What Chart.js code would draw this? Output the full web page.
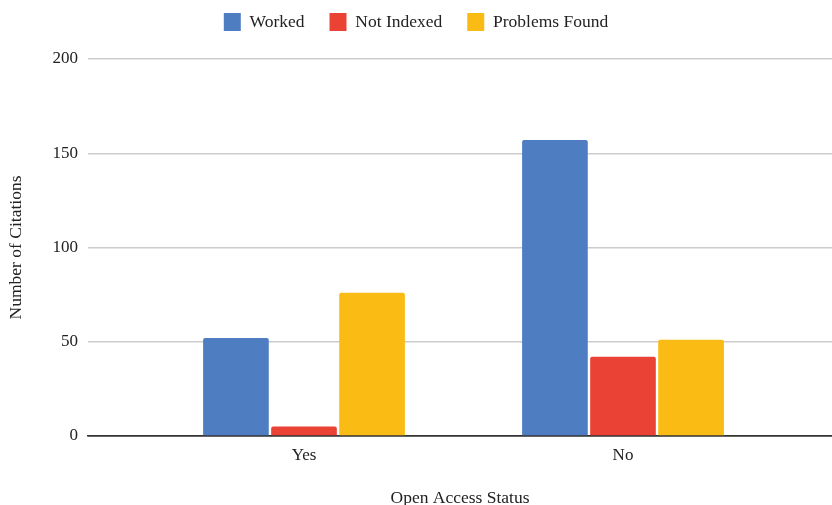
<!DOCTYPE html>
<html>
<head>
<meta charset="utf-8">
<script src="https://cdn.jsdelivr.net/npm/chart.js@4"></script>
<style>
  html, body { margin: 0; padding: 0; background: #fff; }
  #wrap { width: 832px; height: 505px; }
</style>
</head>
<body>
<div id="wrap"><canvas id="BarChart"></canvas></div>
<script>
const categories = ['Yes', 'No'];
const worked = [52, 157];
const notIndexed = [5, 42];
const problemsFound = [76, 51];
const yTicks = [0, 50, 100, 150, 200];

const font = 'Liberation Serif';
Chart.defaults.font.family = font;
Chart.defaults.color = '#222';

const toPoints = (arr) => arr.map((v, i) => ({ x: i, y: v }));

// extra room under the legend so the plot starts at the right height
const legendGap = {
  id: 'legendGap',
  beforeInit(chart) {
    const fit = chart.legend.fit;
    chart.legend.fit = function () { fit.call(this); this.height += 18; };
  }
};

const ctx = document.getElementById('BarChart');

new Chart(ctx, {
  type: 'bar',
  data: {
    datasets: [
      { label: 'Worked', data: toPoints(worked), backgroundColor: '#4f7dc1' },
      { label: 'Not Indexed', data: toPoints(notIndexed), backgroundColor: '#ea4335' },
      { label: 'Problems Found', data: toPoints(problemsFound), backgroundColor: '#f9bb14' }
    ]
  },
  plugins: [legendGap],
  options: {
    responsive: true,
    maintainAspectRatio: false,
    animation: false,
    categoryPercentage: 0.64,
    barPercentage: 0.965,
    borderRadius: 2,
    borderSkipped: 'bottom',
    layout: { padding: { top: -12, right: 0, left: 0, bottom: 0 } },
    plugins: {
      legend: {
        labels: {
          font: { size: 17.5, family: font },
          boxWidth: 17,
          boxHeight: 18,
          padding: 25,
          color: '#222'
        }
      },
      tooltip: { enabled: false }
    },
    scales: {
      x: {
        type: 'linear',
        offset: false,
        min: -0.6771,
        max: 1.6552,
        afterBuildTicks: (s) => { s.ticks = categories.map((c, i) => ({ value: i })); },
        afterFit: (s) => { s.height = 69; },
        ticks: {
          callback: (v) => categories[v] ?? '',
          font: { size: 17, family: font },
          color: '#222',
          padding: 1,
          maxRotation: 0
        },
        grid: { display: false },
        border: { display: true, color: '#333', width: 1.5 },
        title: {
          display: true,
          text: 'Open Access Status',
          font: { size: 17.5, family: font },
          color: '#222',
          padding: { top: 4, bottom: -4 }
        }
      },
      y: {
        min: 0,
        max: 200,
        afterBuildTicks: (s) => { s.ticks = yTicks.map(v => ({ value: v })); },
        afterFit: (s) => { s.width = 88; },
        ticks: {
          font: { size: 17, family: font },
          color: '#222',
          padding: 10
        },
        grid: {
          color: (c) => c.tick && c.tick.value === 0 ? '#333' : '#cccccc',
          lineWidth: 1.5,
          drawTicks: false
        },
        border: { display: false },
        title: {
          display: true,
          text: 'Number of Citations',
          font: { size: 17.5, family: font },
          color: '#222',
          padding: { top: 6, bottom: 0 }
        }
      }
    }
  }
});
</script>
</body>
</html>
